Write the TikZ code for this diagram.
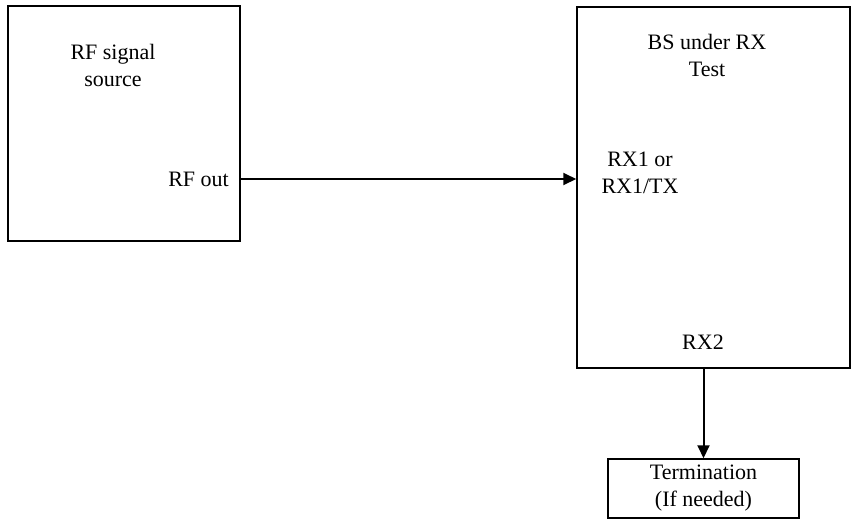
\documentclass[tikz,border=0pt]{standalone}
\usepackage{fontspec}
\setmainfont{Liberation Serif}
\usetikzlibrary{arrows.meta,positioning,calc}

\begin{document}
\begin{tikzpicture}[x=1pt,y=-1pt,>={Triangle[length=13pt,width=12pt]},
font=\fontsize{22}{27}\selectfont,
box/.style={draw,line width=1.5pt,inner sep=0pt,align=center},
lbl/.style={align=center,inner sep=0pt},
arr/.style={->,line width=2pt}]
\useasboundingbox (0,0) rectangle (855,528);
\node[box,minimum width=232pt,minimum height=235pt] (src) at (124,123.5) {};
\node[box,minimum width=273pt,minimum height=361pt] (bs) at (713.5,187.5) {};
\node[box,minimum width=191pt,minimum height=59pt] (term) at (703.5,488.5) {Termination\\(If needed)};
\node[lbl] (srcname) at (113,65.5) {RF signal\\source};
\node[lbl,anchor=east] (rfout) at (229,179) {RF out};
\node[lbl] (bsname) at (707,55.5) {BS under RX\\Test};
\node[lbl] (rxone) at (640,172.5) {RX1 or\\RX1/TX};
\node[lbl] (rxtwo) at (703,342) {RX2};
\draw[arr] (src.east |- rfout) -- (bs.west |- rfout);
\draw[arr] (term.north |- bs.south) -- (term.north);
\end{tikzpicture}
\end{document}
